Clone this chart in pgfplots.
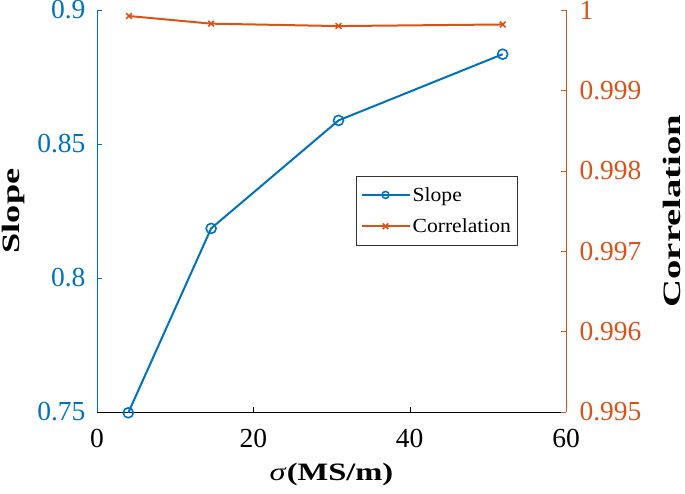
\documentclass[border=0pt]{standalone}
\usepackage{fontspec}
\setmainfont{Liberation Serif}
\newfontfamily\wideA[FakeStretch=1.3]{Liberation Serif}
\newfontfamily\wideB[FakeStretch=1.45]{Liberation Serif}
\newfontfamily\wideC[FakeStretch=1.55]{Liberation Serif}
\newfontfamily\wideL[FakeStretch=1.08]{Liberation Serif}
\usepackage{pgfplots}
\pgfplotsset{compat=1.18}
\definecolor{mblue}{RGB}{0,114,189}
\definecolor{morange}{RGB}{217,83,25}
\begin{document}
\begin{tikzpicture}
\pgfplotsset{
  every axis/.append style={
    scale only axis, width=469pt, height=402pt,
    at={(0pt,0pt)}, anchor=south west,
    xmin=0, xmax=60,
    /pgf/number format/assume math mode=true,
    tick label style={font=\fontsize{27.5}{30}\selectfont},
    tick align=inside, major tick length=5pt,
    axis line style={line width=0.8pt},
  }
}
\begin{axis}[
  axis x line*=bottom, axis y line*=left,
  ymin=0.75, ymax=0.9,
  ytick={0.75,0.8,0.85,0.9},
  yticklabels={0.75,0.8,0.85,0.9},
  xtick={0,20,40,60},
  x axis line style={black},
  y axis line style={mblue},
  every y tick/.style={mblue},
  every x tick/.style={black},
  yticklabel style={text=mblue, xshift=-8pt},
  xticklabel style={yshift=-14pt},
  xlabel={\textit{\mdseries σ}(MS/m)},
  ylabel={Slope},
  xlabel style={font=\wideA\fontsize{25}{28}\selectfont\bfseries,
    at={(axis description cs:0.5,0)}, anchor=center, yshift=-62pt},
  ylabel style={font=\wideB\fontsize{25}{28}\selectfont\bfseries,
    at={(axis description cs:-0.177,0.5)}, anchor=center},
  clip=false,
]
\addplot[mblue, line width=2pt, mark=o, mark size=5pt, mark options={line width=1.6pt}]
  coordinates {(4.0,0.7497) (14.6,0.8185) (30.9,0.8588) (51.9,0.8835)};
\end{axis}
\begin{axis}[
  axis x line=none, axis y line*=right,
  ymin=0.995, ymax=1,
  ytick={0.995,0.996,0.997,0.998,0.999,1},
  yticklabels={0.995,0.996,0.997,0.998,0.999,1},
  y axis line style={morange},
  every y tick/.style={morange},
  yticklabel style={text=morange, xshift=10pt},
  ylabel={Correlation},
  ylabel style={font=\wideC\fontsize{25}{28}\selectfont\bfseries,
    at={(axis description cs:1.226,0.5)}, anchor=center},
  legend style={at={(0.896,0.587)}, anchor=north east, draw=black!80,
    font=\wideL\fontsize{20}{24}\selectfont, fill=white, inner xsep=4pt, inner ysep=9pt,
    row sep=12pt, cells={anchor=west}},
  legend image code/.code={%
    \pgfsetlinewidth{2.2pt}%
    \draw[line width=2.2pt, mark repeat=2, mark phase=2]
      plot coordinates {(0pt,0pt) (24pt,0pt) (48pt,0pt)};},
  clip=false,
]
\addlegendimage{mblue, line width=2.2pt, mark=o, mark size=3.5pt, mark options={line width=1.5pt}}
\addlegendentry{Slope}
\addplot[morange, line width=2pt, mark=x, mark size=4pt, mark options={line width=1.6pt}]
  coordinates {(4.1,0.999925) (14.6,0.99983) (30.9,0.99980) (51.9,0.99982)};
\addlegendentry{Correlation}
\end{axis}
\pgfresetboundingbox
\path[use as bounding box] (-97pt,-82pt) rectangle (588pt,412pt);
\end{tikzpicture}
\end{document}
